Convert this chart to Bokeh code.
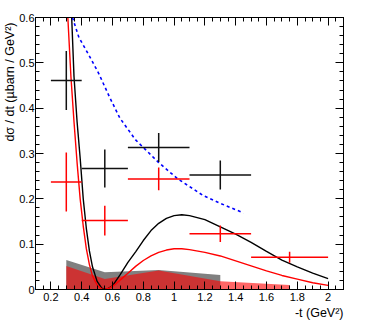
from bokeh.plotting import figure
from bokeh.models import FixedTicker, LinearAxis, Range1d, Title
from bokeh.embed import file_html
from bokeh.resources import INLINE

# ---- data ----
black_x = [0.3, 0.55, 0.9, 1.3]
black_y = [0.461, 0.267, 0.313, 0.2525]
black_xerr = [0.1, 0.15, 0.2, 0.2]
black_yerr = [0.065, 0.042, 0.032, 0.032]

red_x = [0.3, 0.55, 0.9, 1.3, 1.75]
red_y = [0.237, 0.152, 0.244, 0.123, 0.071]
red_xerr = [0.1, 0.15, 0.2, 0.2, 0.25]
red_yerr = [0.065, 0.033, 0.025, 0.018, 0.012]

black_curve_x = [0.335, 0.35, 0.37, 0.39, 0.41, 0.43, 0.45, 0.47, 0.50, 0.53, 0.56, 0.60, 0.65, 0.70,
                 0.75, 0.80, 0.85, 0.90, 0.95, 1.00, 1.05, 1.10, 1.20, 1.30, 1.40, 1.50, 1.60, 1.70,
                 1.80, 1.90, 2.00]
black_curve_y = [0.60, 0.47, 0.37, 0.29, 0.20, 0.135, 0.085, 0.050, 0.018, 0.003, 0.0, 0.008, 0.033,
                 0.060, 0.083, 0.108, 0.130, 0.146, 0.157, 0.163, 0.165, 0.163, 0.154, 0.138, 0.122,
                 0.104, 0.084, 0.065, 0.050, 0.036, 0.024]

red_curve_x = [0.31, 0.33, 0.35, 0.37, 0.39, 0.41, 0.43, 0.45, 0.47, 0.50, 0.53, 0.55, 0.58, 0.62,
               0.66, 0.70, 0.75, 0.80, 0.85, 0.90, 0.95, 1.00, 1.05, 1.10, 1.20, 1.30, 1.40, 1.50,
               1.60, 1.70, 1.80, 1.90, 2.00]
red_curve_y = [0.60, 0.47, 0.37, 0.28, 0.20, 0.14, 0.09, 0.055, 0.03, 0.01, 0.001, 0.0, 0.003, 0.012,
               0.024, 0.036, 0.051, 0.064, 0.074, 0.082, 0.087, 0.090, 0.090, 0.088, 0.082, 0.074,
               0.063, 0.052, 0.041, 0.031, 0.023, 0.015, 0.009]

blue_curve_x = [0.34, 0.382, 0.45, 0.51, 0.58, 0.648, 0.75, 0.90, 1.02, 1.19, 1.30, 1.45]
blue_curve_y = [0.60, 0.556, 0.515, 0.477, 0.425, 0.378, 0.33, 0.28, 0.245, 0.207, 0.19, 0.169]

gray_band_x = [0.3, 0.55, 0.9, 1.3]
gray_band_y = [0.065, 0.038, 0.043, 0.032]

red_band_x = [0.3, 0.55, 0.9, 1.3, 1.75]
red_band_y = [0.052, 0.023, 0.042, 0.018, 0.010]

x_ticks = [0.2, 0.4, 0.6, 0.8, 1.0, 1.2, 1.4, 1.6, 1.8, 2.0]
x_tick_labels = ["0.2", "0.4", "0.6", "0.8", "1", "1.2", "1.4", "1.6", "1.8", "2"]
y_ticks = [0.0, 0.1, 0.2, 0.3, 0.4, 0.5, 0.6]
y_tick_labels = ["0", "0.1", "0.2", "0.3", "0.4", "0.5", "0.6"]

x_title = "-t (GeV²)"
y_title = "dσ / dt (µbarn / GeV²)"

FONT = "Liberation Sans"

p = figure(x_range=Range1d(0.1, 2.1), y_range=Range1d(0.0, 0.6),
           frame_width=308, frame_height=272,
           min_border_left=29, min_border_right=18, min_border_top=17, min_border_bottom=31,
           output_backend="svg", toolbar_location=None)
p.grid.visible = False
p.outline_line_color = "black"
p.outline_line_width = 1
p.background_fill_color = "white"
p.border_fill_color = "white"

x_minor = [round(0.1 + 0.05 * i, 3) for i in range(41)]
y_minor = [round(0.02 * i, 3) for i in range(31)]
xt = FixedTicker(ticks=x_ticks, minor_ticks=x_minor)
yt = FixedTicker(ticks=y_ticks, minor_ticks=y_minor)


def style(ax):
    ax.major_tick_in = 8
    ax.major_tick_out = 0
    ax.minor_tick_in = 4
    ax.minor_tick_out = 0
    ax.axis_line_color = "black"
    ax.major_tick_line_color = "black"
    ax.minor_tick_line_color = "black"
    ax.major_label_text_font = FONT
    ax.major_label_text_color = "black"
    ax.major_label_text_font_size = "11px"


p.xaxis.ticker = xt
p.yaxis.ticker = yt
p.xaxis.major_label_overrides = {t: l for t, l in zip(x_ticks, x_tick_labels)}
p.yaxis.major_label_overrides = {t: l for t, l in zip(y_ticks, y_tick_labels)}
style(p.xaxis[0])
style(p.yaxis[0])
p.xaxis.major_label_standoff = 3
p.yaxis.major_label_standoff = 1

top = LinearAxis(ticker=xt)
style(top)
top.major_label_overrides = {t: "" for t in x_ticks}
top.major_label_standoff = 0
p.add_layout(top, "above")
right = LinearAxis(ticker=yt)
style(right)
right.major_label_overrides = {t: "" for t in y_ticks}
right.major_label_standoff = 0
p.add_layout(right, "right")

# axis titles (right/top aligned as in the reference)
p.add_layout(Title(text=x_title, align="right", text_font=FONT, text_font_size="12.5px",
                   text_font_style="normal", text_color="black", standoff=0, offset=0), "below")
p.add_layout(Title(text=y_title, align="right", text_font=FONT, text_font_size="12.5px",
                   text_font_style="normal", text_color="black", standoff=0, offset=5), "left")

# bands
p.varea(x=gray_band_x, y1=[0] * len(gray_band_x), y2=gray_band_y, fill_color="#808080", fill_alpha=1.0)
p.varea(x=red_band_x, y1=[0] * len(red_band_x), y2=red_band_y, fill_color="#ff0000", fill_alpha=0.6)

# curves
p.line(black_curve_x, black_curve_y, line_color="black", line_width=1.4)
p.line(red_curve_x, red_curve_y, line_color="#ff0000", line_width=1.4)
p.line(blue_curve_x, blue_curve_y, line_color="#0000ff", line_width=1.6, line_dash="3 3")


def errbars(xs, ys, xe, ye, color):
    p.segment(x0=[a - b for a, b in zip(xs, xe)], y0=ys, x1=[a + b for a, b in zip(xs, xe)], y1=ys,
              line_color=color, line_width=1.5)
    p.segment(x0=xs, y0=[a - b for a, b in zip(ys, ye)], x1=xs, y1=[a + b for a, b in zip(ys, ye)],
              line_color=color, line_width=1.5)


errbars(black_x, black_y, black_xerr, black_yerr, "#111111")
errbars(red_x, red_y, red_xerr, red_yerr, "#ff0000")

open("out.html", "w").write(file_html(p, INLINE))
